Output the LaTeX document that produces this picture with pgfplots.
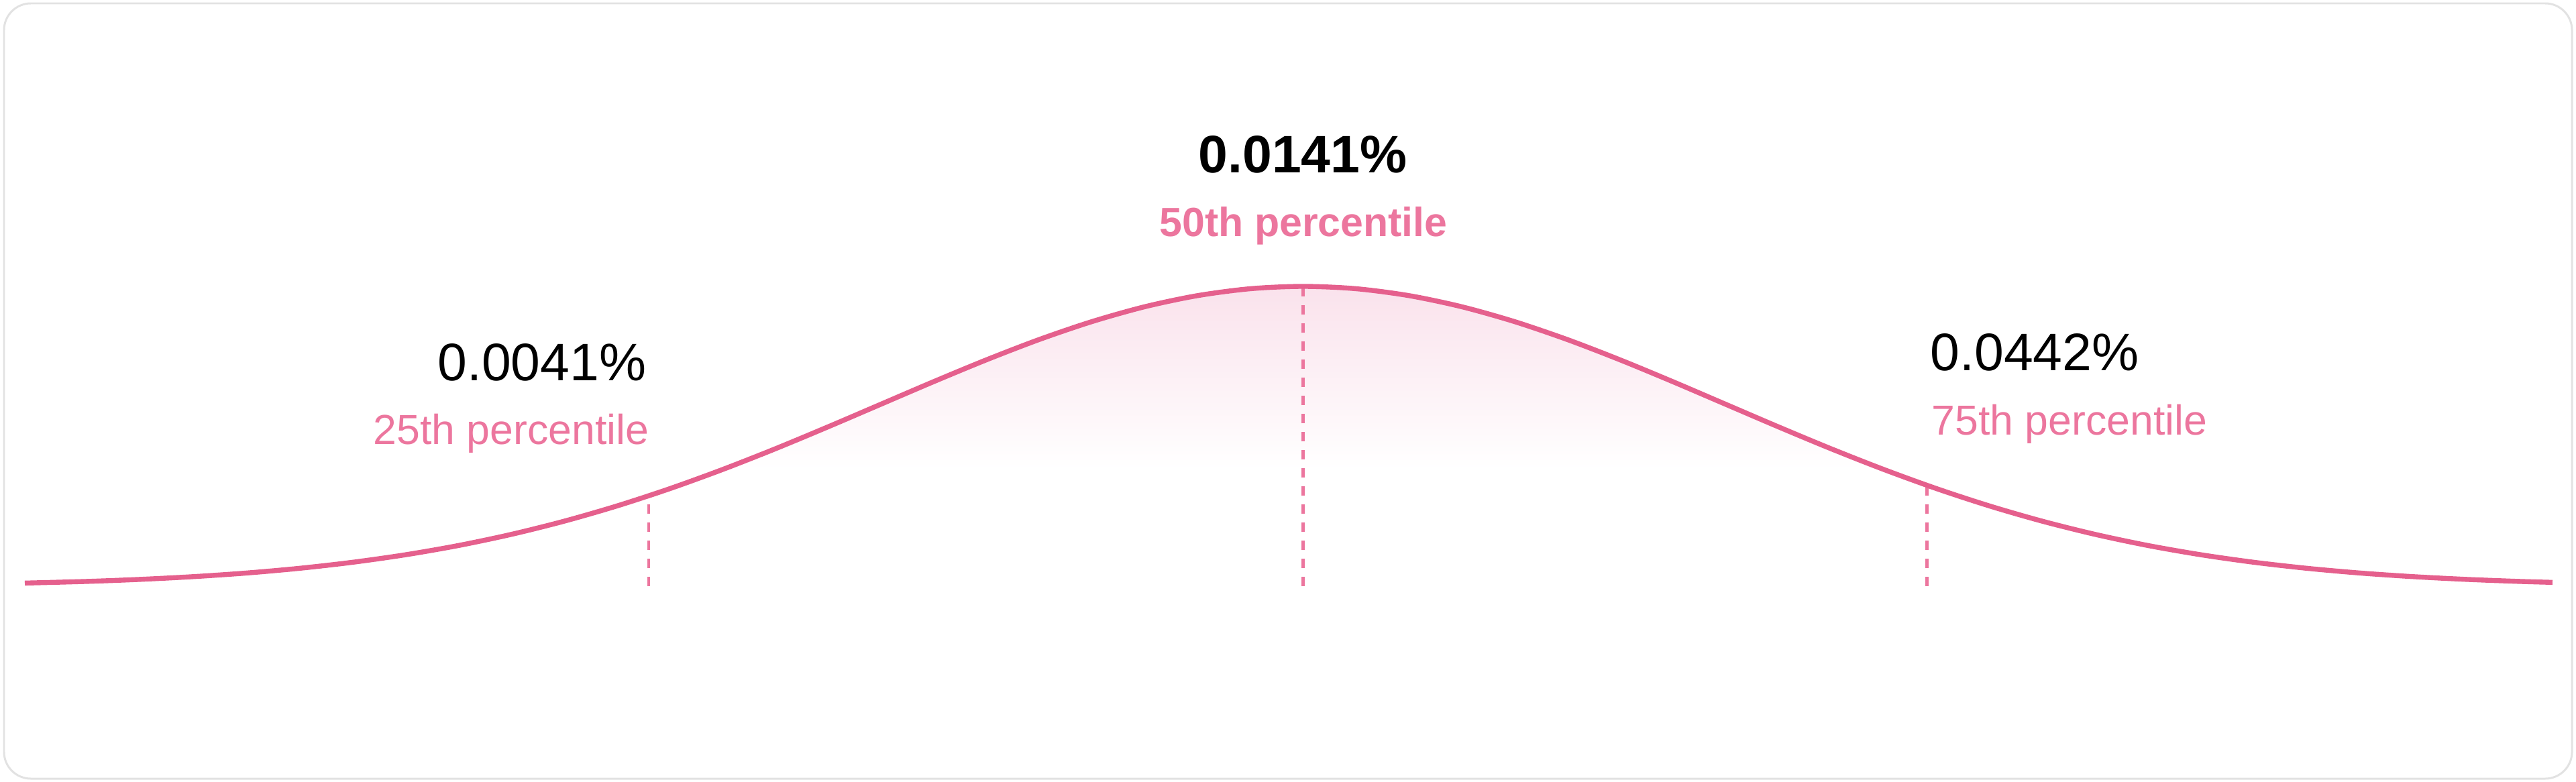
\documentclass[border=0pt]{standalone}
\usepackage{fontspec}
\setmainfont{Liberation Sans}
\usepackage{pgfplots}
\pgfplotsset{compat=1.18}
\definecolor{curvecol}{RGB}{229,96,141}
\definecolor{labcol}{RGB}{236,118,158}
\definecolor{fillcol}{RGB}{250,226,236}
\definecolor{framecol}{RGB}{226,226,226}
\begin{document}
\begin{tikzpicture}
\path[use as bounding box] (0,0) rectangle (38.4,11.65);
\draw[framecol, line width=0.85pt, rounded corners=0.4cm] (0.06,0.04) rectangle (38.34,11.60);
\begin{axis}[
  at={(0.37cm,2.91cm)}, anchor=south west,
  scale only axis, width=37.68cm, height=4.47cm,
  xmin=-3.025, xmax=2.956, ymin=0, ymax=1,
  hide axis, clip=false]
% gradient fill under the upper part of the curve
\addplot[draw=none, smooth, top color=fillcol, bottom color=white] coordinates {
(-1.372,0.39) (-1.25,0.4578) (-1.125,0.5311) (-1,0.6065) (-0.875,0.6819) (-0.75,0.7548)
(-0.625,0.8226) (-0.5,0.8825) (-0.375,0.9321) (-0.25,0.9692) (-0.125,0.9922) (0,1)
(0.125,0.9922) (0.25,0.9692) (0.375,0.9321) (0.5,0.8825) (0.625,0.8226) (0.75,0.7548)
(0.875,0.6819) (1,0.6065) (1.125,0.5311) (1.25,0.4578) (1.372,0.39)};
% percentile markers
\addplot[labcol, line width=1.3pt, dash pattern=on 0.14cm off 0.13cm] coordinates {(-1.549,0) (-1.549,0.301)};
\addplot[labcol, line width=1.3pt, dash pattern=on 0.14cm off 0.13cm] coordinates {(0,0) (0,1)};
\addplot[labcol, line width=1.3pt, dash pattern=on 0.14cm off 0.13cm] coordinates {(1.476,0) (1.476,0.3365)};
% distribution curve
\addplot[curvecol, line width=2.1pt, smooth] coordinates {
(-3.025,0.0103) (-2.875,0.0160) (-2.75,0.0228) (-2.625,0.0319) (-2.5,0.0439) (-2.375,0.0596)
(-2.25,0.0796) (-2.125,0.1046) (-2,0.1353) (-1.875,0.1724) (-1.75,0.2163) (-1.625,0.2671)
(-1.5,0.3247) (-1.375,0.3886) (-1.25,0.4578) (-1.125,0.5311) (-1,0.6065) (-0.875,0.6819)
(-0.75,0.7548) (-0.625,0.8226) (-0.5,0.8825) (-0.375,0.9321) (-0.25,0.9692) (-0.125,0.9922)
(0,1)
(0.125,0.9922) (0.25,0.9692) (0.375,0.9321) (0.5,0.8825) (0.625,0.8226) (0.75,0.7548)
(0.875,0.6819) (1,0.6065) (1.125,0.5311) (1.25,0.4578) (1.375,0.3886) (1.5,0.3247)
(1.625,0.2671) (1.75,0.2163) (1.875,0.1724) (2,0.1353) (2.125,0.1046) (2.25,0.0796)
(2.375,0.0596) (2.5,0.0439) (2.625,0.0319) (2.75,0.0228) (2.875,0.0160) (2.956,0.0127)};
\end{axis}
% labels
\node[anchor=base, inner sep=0pt, font=\fontsize{22.4}{26}\selectfont\bfseries] at (19.42,9.08) {0.0141\%};
\node[anchor=base, inner sep=0pt, text=labcol, font=\fontsize{17.3}{21}\selectfont\bfseries] at (19.43,8.13) {50th percentile};
\node[anchor=base east, inner sep=0pt, font=\fontsize{22.4}{26}\selectfont] at (9.64,5.98) {0.0041\%};
\node[anchor=base east, inner sep=0pt, text=labcol, font=\fontsize{17.8}{21}\selectfont] at (9.68,5.03) {25th percentile};
\node[anchor=base west, inner sep=0pt, font=\fontsize{22.4}{26}\selectfont] at (28.77,6.13) {0.0442\%};
\node[anchor=base west, inner sep=0pt, text=labcol, font=\fontsize{17.8}{21}\selectfont] at (28.79,5.17) {75th percentile};
\end{tikzpicture}
\end{document}
